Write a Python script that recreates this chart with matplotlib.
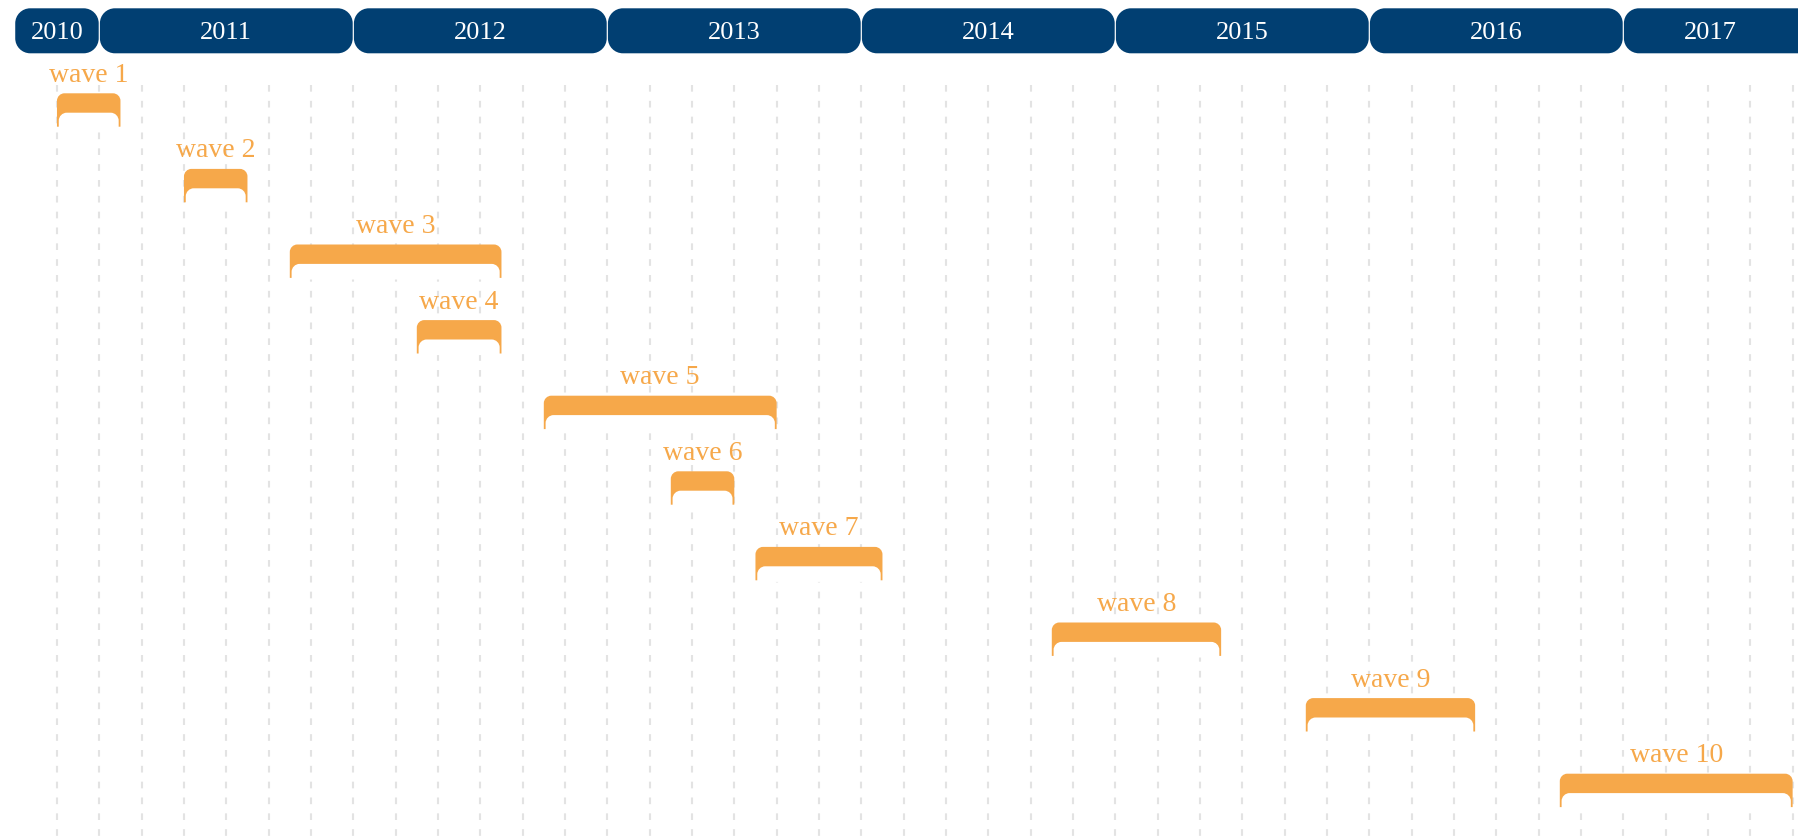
import numpy as np
import matplotlib
matplotlib.use("Agg")
import matplotlib.pyplot as plt
from matplotlib.path import Path
from matplotlib.patches import PathPatch

plt.rcParams['lines.scale_dashes'] = False

# Data (months counted from Jan 2010)
year_labels = ["2010", "2011", "2012", "2013", "2014", "2015", "2016", "2017"]
year_start = [8, 12, 24, 36, 48, 60, 72, 84]
year_end = [12, 24, 36, 48, 60, 72, 84, 96]

wave_labels = ["wave 1", "wave 2", "wave 3", "wave 4", "wave 5",
               "wave 6", "wave 7", "wave 8", "wave 9", "wave 10"]
wave_start = [10, 16, 21, 27, 33, 39, 43, 57, 69, 81]
wave_end = [13, 19, 31, 31, 44, 42, 49, 65, 77, 92]

grid_months = np.arange(10, 93, 2)

BLUE = "#013f72"
ORANGE = "#f6a84a"
GRID = "#e3e3e3"

W, H = 1798, 839
PPM = 254 / 12.0          # pixels per month
x_left = 12 - 99.3 / PPM
x_right = x_left + W / PPM


def rounded_box(x0, x1, ytop, ybot, r, round_bottom=False):
    # y in pixel units (axis inverted), x in months; r in pixels
    rx = r / PPM
    ry = r
    k = 0.5523
    verts = []
    codes = []
    if round_bottom:
        verts += [(x0, ybot - ry)]
    else:
        verts += [(x0, ybot)]
    codes += [Path.MOVETO]
    verts += [(x0, ytop + ry),
              (x0, ytop + ry - k * ry), (x0 + rx - k * rx, ytop), (x0 + rx, ytop),
              (x1 - rx, ytop),
              (x1 - rx + k * rx, ytop), (x1, ytop + ry - k * ry), (x1, ytop + ry)]
    codes += [Path.LINETO, Path.CURVE4, Path.CURVE4, Path.CURVE4,
              Path.LINETO, Path.CURVE4, Path.CURVE4, Path.CURVE4]
    if round_bottom:
        verts += [(x1, ybot - ry),
                  (x1, ybot - ry + k * ry), (x1 - rx + k * rx, ybot), (x1 - rx, ybot),
                  (x0 + rx, ybot),
                  (x0 + rx - k * rx, ybot), (x0, ybot - ry + k * ry), (x0, ybot - ry)]
        codes += [Path.LINETO, Path.CURVE4, Path.CURVE4, Path.CURVE4,
                  Path.LINETO, Path.CURVE4, Path.CURVE4, Path.CURVE4]
    else:
        verts += [(x1, ybot)]
        codes += [Path.LINETO]
    verts += [(0, 0)]
    codes += [Path.CLOSEPOLY]
    return Path(verts, codes)


fig = plt.figure(figsize=(W / 100, H / 100), dpi=100)
ax = fig.add_axes([0, 0, 1, 1])
ax.set_xlim(x_left, x_right)
ax.set_ylim(H, 0)
ax.axis("off")

# grid
for m in grid_months:
    ax.plot([m, m], [85, H], color=GRID, lw=1.5, dashes=(4.8, 6.6), zorder=1)

# year header
gap = 0.6 / PPM
for lab, s, e in zip(year_labels, year_start, year_end):
    p = rounded_box(s + gap, e - gap, 8.3, 53.3, 15, round_bottom=True)
    ax.add_patch(PathPatch(p, facecolor=BLUE, edgecolor="none", zorder=3))
    xc = (s + min(e, x_right)) / 2
    ax.text(xc, 33, lab, color="white", ha="center", va="center",
            fontsize=19, family="Liberation Serif", zorder=4)

# waves
row_top = 93.3
row_step = 75.6
for i, (lab, s, e) in enumerate(zip(wave_labels, wave_start, wave_end)):
    yt = row_top + i * row_step
    outer = rounded_box(s, e, yt, yt + 33.4, 7.5)
    ax.add_patch(PathPatch(outer, facecolor=ORANGE, edgecolor="none", zorder=3))
    inset = 1.8 / PPM
    inner = rounded_box(s + inset, e - inset, yt + 19.4, yt + 35.0, 8)
    ax.add_patch(PathPatch(inner, facecolor="white", edgecolor="none", zorder=4))
    ax.text((s + e) / 2, yt - 11.5, lab, color=ORANGE, ha="center", va="baseline",
            fontsize=20, family="Liberation Serif", zorder=5)

fig.savefig("out.png", dpi=100)
